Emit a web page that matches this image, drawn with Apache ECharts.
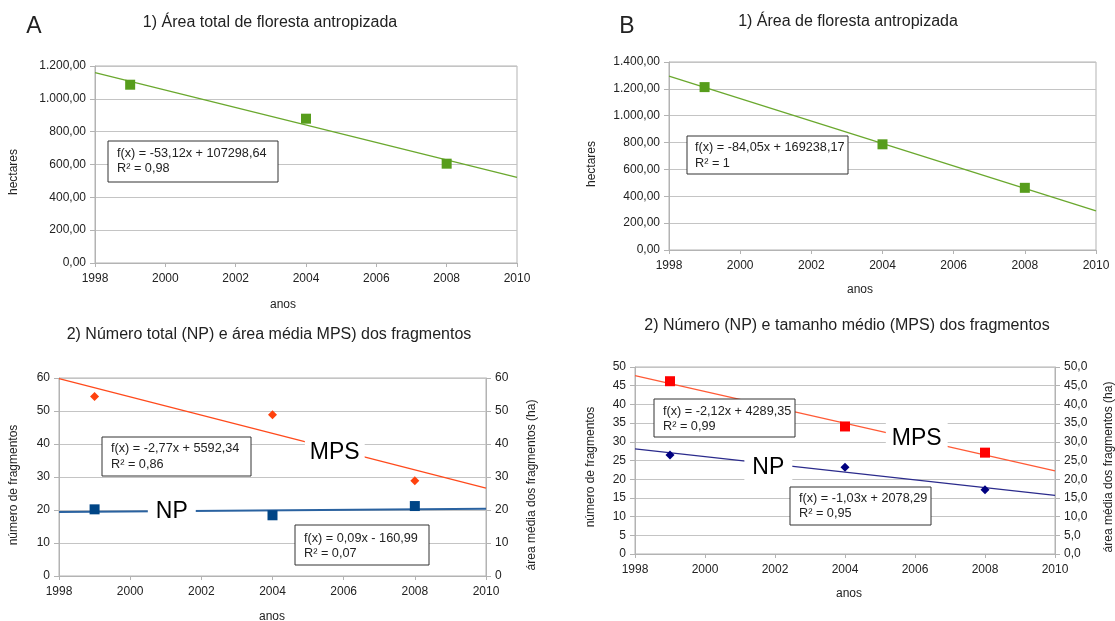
<!DOCTYPE html>
<html>
<head>
<meta charset="utf-8">
<script src="https://cdn.jsdelivr.net/npm/echarts@6/dist/echarts.min.js"></script>
<style>
  html, body { margin: 0; padding: 0; background: #fff; }
  #chart { width: 1115px; height: 621px; }
</style>
</head>
<body>
<div id="chart"></div>
<script>
// valores
const anos = [1999, 2004, 2008]
const anosTendencia = [1998, 2010]

// A) 1) área total de floresta antropizada (ha)
const areaA = [1086, 879, 605]
const tendAreaA = [1160, 522]
// B) 1) área de floresta antropizada (ha)
const areaB = [1213, 787, 463]
const tendAreaB = [1295, 291]

// A) 2) NP e MPS
const npA = [20.2, 18.4, 21.2]
const tendNpA = [19.4, 20.4]
const mpsA = [54.4, 48.9, 28.9]
const tendMpsA = [59.8, 26.6]
// B) 2) NP e MPS
const npB = [26.5, 23.2, 17.2]
const tendNpB = [28.1, 15.7]
const mpsB = [46.2, 34.1, 27.1]
const tendMpsB = [47.7, 22.2]

const FONT = '"Liberation Sans", Arial, sans-serif'
const TXT = '#222'
const AXIS = '#b3b3b3'
const GRID = '#c4c4c4'

const pts = (xs, ys) => xs.map((x, i) => [x, ys[i]])

// formato brasileiro: 1.200,00
const fmtBR = (v, dec) => {
  const parts = Number(v).toFixed(dec).split('.')
  parts[0] = parts[0].replace(/\B(?=(\d{3})+(?!\d))/g, '.')
  return parts.join(',')
}

const xAxisOf = (gi) => ({
  type: 'value', gridIndex: gi, min: 1998, max: 2010, interval: 2,
  axisLine: { show: true, onZero: false, lineStyle: { color: AXIS } },
  axisTick: { show: true, length: 4, lineStyle: { color: AXIS } },
  splitLine: { show: false },
  axisLabel: { color: TXT, fontSize: 12, margin: 10, fontFamily: FONT, formatter: (v) => String(v) }
})

const yAxisOf = (gi, max, interval, dec, pos) => ({
  type: 'value', gridIndex: gi, min: 0, max: max, interval: interval,
  position: pos || 'left',
  axisLine: { show: true, onZero: false, lineStyle: { color: AXIS } },
  axisTick: { show: true, length: 5, lineStyle: { color: AXIS } },
  splitLine: { show: pos !== 'right', lineStyle: { color: GRID } },
  axisLabel: {
    color: TXT, fontSize: 12, margin: 9, fontFamily: FONT,
    formatter: (v) => fmtBR(v, dec)
  }
})

const pontos = (xi, yi, data, symbol, size, color) => ({
  type: 'scatter', xAxisIndex: xi, yAxisIndex: yi, data: data,
  symbol: symbol, symbolSize: size, itemStyle: { color: color, opacity: 1 },
  z: 4, silent: true
})

const tendencia = (xi, yi, data, color, width) => ({
  type: 'line', xAxisIndex: xi, yAxisIndex: yi, data: data,
  showSymbol: false, symbol: 'none', lineStyle: { color: color, width: width },
  z: 3, silent: true, animation: false
})

// rótulo grande (NP / MPS) com fundo branco, posicionado em coordenadas de dados
const rotulo = (xi, yi, coord, text, pad) => ({
  type: 'scatter', xAxisIndex: xi, yAxisIndex: yi, data: [coord],
  symbol: 'rect', symbolSize: 1, itemStyle: { color: '#fff', opacity: 1 },
  z: 6, silent: true,
  label: {
    show: true, position: 'inside', formatter: text,
    fontSize: 23, fontFamily: FONT, color: '#000', opacity: 1,
    textBorderWidth: 0, backgroundColor: '#fff', padding: pad
  }
})

const texto = (x, y, text, size) => ({
  type: 'text', x: x, y: y, z: 10,
  style: {
    text: text, fontSize: size, fontFamily: FONT, fill: TXT,
    align: 'center', verticalAlign: 'middle'
  }
})

const textoV = (x, y, text) => ({
  type: 'text', x: x, y: y, rotation: Math.PI / 2, z: 10,
  style: {
    text: text, fontSize: 12, fontFamily: FONT, fill: TXT,
    align: 'center', verticalAlign: 'middle'
  }
})

const caixa = (x, y, w, h, tx, l1y, l2y, l1, l2) => ({
  type: 'group', z: 20,
  children: [
    { type: 'rect', shape: { x: x, y: y, width: w, height: h },
      style: { fill: '#fff', stroke: '#333', lineWidth: 1 }, z: 20 },
    { type: 'text', x: tx, y: l1y, z: 21,
      style: { text: l1, fontSize: 12.7, fontFamily: FONT, fill: TXT, align: 'left', verticalAlign: 'middle' } },
    { type: 'text', x: tx, y: l2y, z: 21,
      style: { text: l2, fontSize: 12.7, fontFamily: FONT, fill: TXT, align: 'left', verticalAlign: 'middle' } }
  ]
})

const chart = echarts.init(document.getElementById('chart'), null, { renderer: 'canvas' })

const gridBase = { show: true, borderColor: AXIS, borderWidth: 1, backgroundColor: 'transparent', containLabel: false, outerBoundsMode: 'none' }

const option = {
  animation: false,
  backgroundColor: '#fff',
  textStyle: { fontFamily: FONT },
  grid: [
    Object.assign({ left: 95, right: 598, top: 66, height: 197 }, gridBase),
    Object.assign({ left: 669, right: 19, top: 62, height: 188 }, gridBase),
    Object.assign({ left: 59, right: 629, top: 378, height: 198 }, gridBase),
    Object.assign({ left: 635, right: 60, top: 367, height: 187 }, gridBase)
  ],
  xAxis: [xAxisOf(0), xAxisOf(1), xAxisOf(2), xAxisOf(3)],
  yAxis: [
    yAxisOf(0, 1200, 200, 2),
    yAxisOf(1, 1400, 200, 2),
    yAxisOf(2, 60, 10, 0),
    yAxisOf(2, 60, 10, 0, 'right'),
    yAxisOf(3, 50, 5, 0),
    yAxisOf(3, 50, 5, 1, 'right')
  ],
  series: [
    // A1
    tendencia(0, 0, pts(anosTendencia, tendAreaA), '#6aa82e', 1.3),
    pontos(0, 0, pts(anos, areaA), 'rect', 10, '#579d1c'),
    // B1
    tendencia(1, 1, pts(anosTendencia, tendAreaB), '#6aa82e', 1.3),
    pontos(1, 1, pts(anos, areaB), 'rect', 10, '#579d1c'),
    // A2
    tendencia(2, 3, pts(anosTendencia, tendMpsA), '#ff4a1c', 1.3),
    pontos(2, 3, pts(anos, mpsA), 'diamond', 9, '#ff420e'),
    tendencia(2, 2, pts(anosTendencia, tendNpA), '#2a62a0', 2),
    pontos(2, 2, pts(anos, npA), 'rect', 10, '#004586'),
    rotulo(2, 3, [2005.75, 37.3], 'MPS', [6, 5]),
    rotulo(2, 2, [2001.17, 19.4], 'NP', [6, 8]),
    // B2
    tendencia(3, 5, pts(anosTendencia, tendMpsB), '#ff5a36', 1.3),
    pontos(3, 5, pts(anos, mpsB), 'rect', 10, '#ff0000'),
    tendencia(3, 4, pts(anosTendencia, tendNpB), '#2b2b8c', 1.3),
    pontos(3, 4, pts(anos, npB), 'diamond', 9, '#000080'),
    rotulo(3, 5, [2006.05, 30.9], 'MPS', [4, 6]),
    rotulo(3, 4, [2001.81, 23.1], 'NP', [10, 8])
  ],
  graphic: [
    texto(34, 27, 'A', 23),
    texto(627, 27, 'B', 23),
    texto(270, 23, '1) Área total de floresta antropizada', 16),
    texto(848, 22, '1) Área de floresta antropizada', 16),
    texto(269, 335, '2) Número total (NP) e área média MPS) dos fragmentos', 16),
    texto(847, 326, '2) Número (NP) e tamanho médio (MPS) dos fragmentos', 16),
    texto(283, 305, 'anos', 12),
    texto(860, 290, 'anos', 12),
    texto(272, 617, 'anos', 12),
    texto(849, 594, 'anos', 12),
    textoV(14, 172, 'hectares'),
    textoV(592, 164, 'hectares'),
    textoV(14, 485, 'número de fragmentos'),
    textoV(532, 485, 'área média dos fragmentos (ha)'),
    textoV(591, 467, 'número de fragmentos'),
    textoV(1109, 467, 'área média dos fragmentos (ha)'),
    caixa(108, 141, 170, 41, 117, 153, 168, 'f(x) = -53,12x + 107298,64', 'R² = 0,98'),
    caixa(687, 136, 161, 38, 695, 147, 163, 'f(x) = -84,05x + 169238,17', 'R² = 1'),
    caixa(102, 437, 149, 39, 111, 448, 464, 'f(x) = -2,77x + 5592,34', 'R² = 0,86'),
    caixa(295, 525, 134, 40, 304, 538, 553, 'f(x) = 0,09x - 160,99', 'R² = 0,07'),
    caixa(654, 399, 141, 38, 663, 411, 426, 'f(x) = -2,12x + 4289,35', 'R² = 0,99'),
    caixa(790, 487, 141, 38, 799, 498, 513, 'f(x) = -1,03x + 2078,29', 'R² = 0,95')
  ]
}

chart.setOption(option)
</script>
</body>
</html>
